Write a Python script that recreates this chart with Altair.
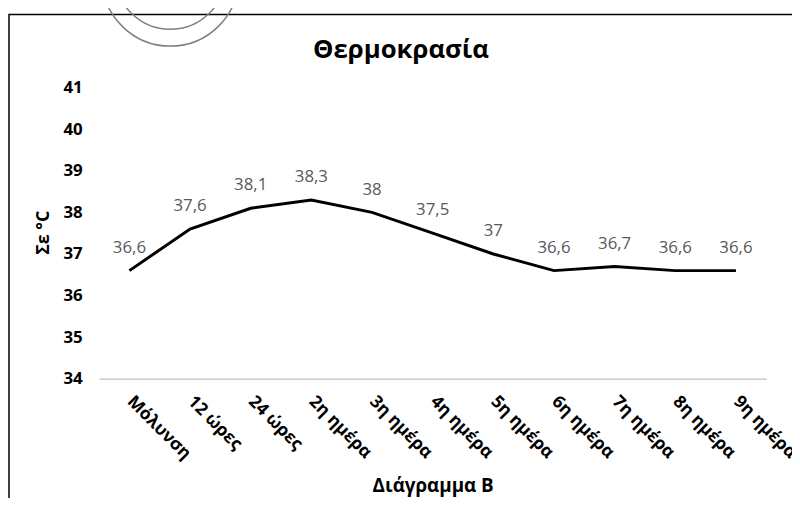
import altair as alt
import pandas as pd

categories = ["Μόλυνση", "12 ώρες", "24 ώρες", "2η ημέρα", "3η ημέρα", "4η ημέρα",
              "5η ημέρα", "6η ημέρα", "7η ημέρα", "8η ημέρα", "9η ημέρα"]
values = [36.6, 37.6, 38.1, 38.3, 38.0, 37.5, 37.0, 36.6, 36.7, 36.6, 36.6]
y_ticks = [34, 35, 36, 37, 38, 39, 40, 41]
chart_title = "Θερμοκρασία"

labels = [f"{v:g}".replace(".", ",") for v in values]
df = pd.DataFrame({"cat": categories, "val": values, "label": labels})

FONT = "Open Sans"

x_enc = alt.X("cat:N", sort=categories,
              scale=alt.Scale(type="point", padding=0.5),
              axis=alt.Axis(title="Διάγραμμα Β", titleFont=FONT, titleFontSize=19,
                            titleFontWeight="bold", titleColor="black",
                            titleBaseline="alphabetic", titleY=114,
                            labelAngle=45, labelAlign="left", labelBaseline="middle",
                            labelFont=FONT, labelFontSize=17.5, labelFontWeight="bold",
                            labelColor="black", labelPadding=20,
                            domainColor="#bfbfbf", domainWidth=1.2,
                            ticks=False, grid=False))
y_enc = alt.Y("val:Q",
              scale=alt.Scale(domain=[34, 41], nice=False, zero=False),
              axis=alt.Axis(title="Σε °C", values=y_ticks, titleFont=FONT, titleFontSize=18,
                            titleFontWeight="bold", titleColor="black",
                            titleX=-56, titleY=146, titleAlign="center",
                            titleBaseline="middle", titleAngle=270,
                            labelFont=FONT, labelFontSize=17, labelFontWeight="bold",
                            labelColor="black", labelPadding=17,
                            domain=False, ticks=False, grid=False))

base = alt.Chart(df)
line = base.mark_line(color="black", strokeWidth=3).encode(x=x_enc, y=y_enc)
text = base.mark_text(dy=-23, fontSize=17, font=FONT, color="#595959").encode(
    x=x_enc, y=y_enc, text="label:N")

one = alt.Chart(pd.DataFrame({"t": [chart_title]}))
frame = one.mark_rect(fillOpacity=0, stroke="black", strokeWidth=1.5).encode(
    x=alt.value(-91), x2=alt.value(720), y=alt.value(-74), y2=alt.value(440))
ring1 = one.mark_point(shape="circle", filled=False, color="#808080",
                       strokeWidth=1.5, opacity=1, size=19044).encode(
    x=alt.value(72), y=alt.value(-111))
ring2 = one.mark_point(shape="circle", filled=False, color="#808080",
                       strokeWidth=1.5, opacity=1, size=12544).encode(
    x=alt.value(72), y=alt.value(-115))
title = one.mark_text(font=FONT, fontSize=26, fontWeight="bold", color="black",
                      align="center", baseline="alphabetic").encode(
    x=alt.value(305), y=alt.value(-30), text="t:N")

chart = alt.layer(frame, ring1, ring2, title, line, text).properties(
    width=674, height=294,
    autosize=alt.AutoSizeParams(type="none"),
    padding={"left": 92, "top": 78, "right": 26, "bottom": 118},
).configure_view(stroke=None)

chart.save("out.html", embed_options={"renderer": "svg", "actions": False})
